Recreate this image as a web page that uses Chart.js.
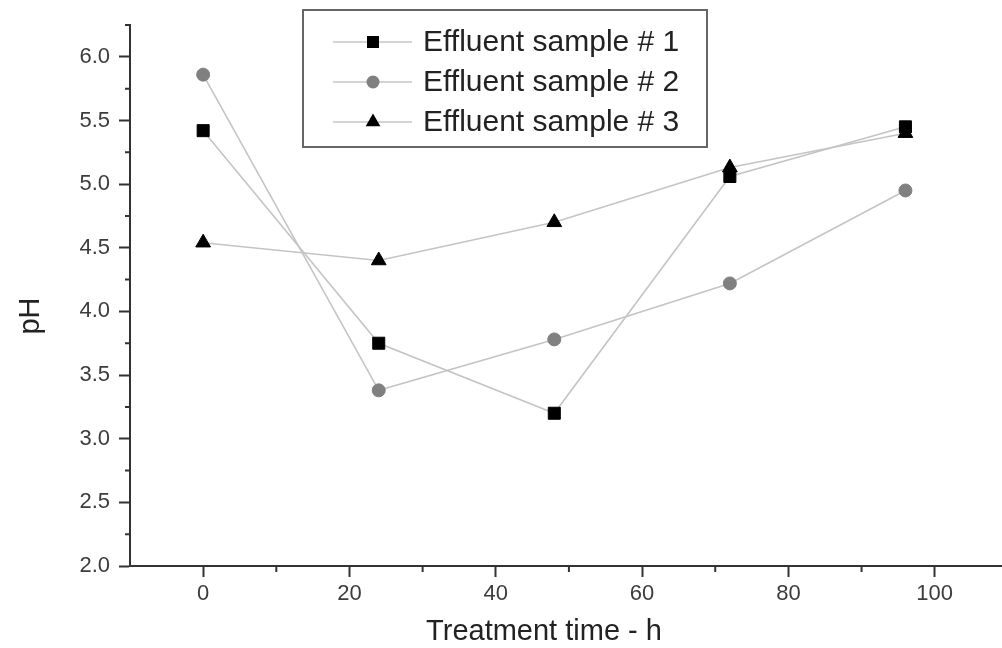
<!DOCTYPE html>
<html>
<head>
<meta charset="utf-8">
<title>pH vs treatment time</title>
<script src="https://cdn.jsdelivr.net/npm/chart.js@4/dist/chart.umd.min.js"></script>
<style>
  html, body { margin: 0; padding: 0; background: #fff; }
  canvas { display: block; }
</style>
</head>
<body>
<canvas id="phChart" width="1002" height="648"></canvas>
<script>
// values
const hours = [0, 24, 48, 72, 96];
const sample1 = [5.42, 3.75, 3.20, 5.06, 5.45];
const sample2 = [5.86, 3.38, 3.78, 4.22, 4.95];
const sample3 = [4.54, 4.40, 4.70, 5.13, 5.40];
const seriesLabels = ['Effluent sample # 1', 'Effluent sample # 2', 'Effluent sample # 3'];
const xTicks = [0, 20, 40, 60, 80, 100];
const xMinorTicks = [10, 30, 50, 70, 90];
const yTicks = [2.0, 2.5, 3.0, 3.5, 4.0, 4.5, 5.0, 5.5, 6.0];
const yMinorTicks = [2.25, 2.75, 3.25, 3.75, 4.25, 4.75, 5.25, 5.75, 6.25];

const FONT = "'Liberation Sans', Arial, sans-serif";
const AXIS = '#333';
const LINE = '#c4c4c4';

function pts(vals) {
    return hours.map((h, i) => ({ x: h, y: vals[i] }));
}

const styles = [
    { pointStyle: 'rect', color: '#000', radius: 8.5 },
    { pointStyle: 'circle', color: '#808080', radius: 6.5 },
    { pointStyle: 'triangle', color: '#000', radius: 8.5 },
];

const datasets = [sample1, sample2, sample3].map((vals, i) => ({
    label: seriesLabels[i],
    data: pts(vals),
    borderColor: LINE,
    borderWidth: 1.6,
    pointStyle: styles[i].pointStyle,
    pointRadius: styles[i].radius,
    pointBackgroundColor: styles[i].color,
    pointBorderColor: styles[i].color,
    pointBorderWidth: 1,
    tension: 0,
}));

function marker(ctx, style, x, y, r, color) {
    ctx.save();
    ctx.fillStyle = color;
    ctx.beginPath();
    if (style === 'rect') {
        const s = Math.SQRT1_2 * r;
        ctx.rect(x - s, y - s, 2 * s, 2 * s);
    } else if (style === 'circle') {
        ctx.arc(x, y, r, 0, Math.PI * 2);
    } else {
        ctx.moveTo(x, y - r);
        ctx.lineTo(x + Math.cos(Math.PI / 6) * r, y + r / 2);
        ctx.lineTo(x - Math.cos(Math.PI / 6) * r, y + r / 2);
        ctx.closePath();
    }
    ctx.fill();
    ctx.restore();
}

// minor ticks, axis titles and the boxed legend
const decor = {
    id: 'decor',
    afterDraw(chart) {
        const ctx = chart.ctx;
        const xs = chart.scales.x, ys = chart.scales.y;
        const area = chart.chartArea;
        ctx.save();
        ctx.strokeStyle = AXIS;
        ctx.lineWidth = 2;
        ctx.beginPath();
        xMinorTicks.forEach(v => {
            const px = xs.getPixelForValue(v);
            ctx.moveTo(px, area.bottom);
            ctx.lineTo(px, area.bottom + 6);
        });
        yMinorTicks.forEach(v => {
            const py = ys.getPixelForValue(v);
            ctx.moveTo(area.left, py);
            ctx.lineTo(area.left - 5, py);
        });
        ctx.stroke();

        // axis titles
        ctx.fillStyle = '#222';
        ctx.font = '29px ' + FONT;
        ctx.textAlign = 'center';
        ctx.textBaseline = 'alphabetic';
        ctx.fillText('Treatment time - h', 544, 640);
        ctx.save();
        ctx.translate(39, 316);
        ctx.rotate(-Math.PI / 2);
        ctx.fillText('pH', 0, 0);
        ctx.restore();

        // legend
        const bx = 303, by = 10, bw = 404, bh = 137;
        ctx.strokeStyle = '#666';
        ctx.lineWidth = 2;
        ctx.strokeRect(bx, by, bw, bh);
        chart.data.datasets.forEach((ds, i) => {
            const cy = 42 + i * 40;
            ctx.strokeStyle = LINE;
            ctx.lineWidth = 1.6;
            ctx.beginPath();
            ctx.moveTo(333, cy);
            ctx.lineTo(412, cy);
            ctx.stroke();
            marker(ctx, ds.pointStyle, 373, cy, ds.pointRadius, ds.pointBackgroundColor);
            ctx.fillStyle = '#222';
            ctx.font = '30px ' + FONT;
            ctx.textAlign = 'left';
            ctx.textBaseline = 'middle';
            ctx.fillText(ds.label, 423, cy + 1);
        });
        ctx.restore();
    }
};

new Chart(document.getElementById('phChart').getContext('2d'), {
    type: 'line',
    data: { datasets },
    options: {
        responsive: false,
        animation: false,
        layout: { autoPadding: false, padding: { top: 25, right: 0, left: 0, bottom: 0 } },
        plugins: {
            legend: { display: false },
            tooltip: { enabled: false },
        },
        scales: {
            x: {
                type: 'linear',
                min: -10,
                max: 109.2,
                afterBuildTicks: s => { s.ticks = xTicks.map(v => ({ value: v })); },
                afterFit: s => {
                    s.height = 82;
                    s.paddingLeft = 0;
                    s.paddingRight = 0;
                },
                grid: {
                    drawOnChartArea: false,
                    drawTicks: true,
                    tickLength: 11,
                    tickWidth: 2,
                    tickColor: AXIS,
                },
                border: { display: true, color: AXIS, width: 2 },
                ticks: {
                    color: '#3c3c3c',
                    font: { family: FONT, size: 22 },
                    padding: 4,
                    maxRotation: 0,
                    callback: v => String(v),
                },
            },
            y: {
                type: 'linear',
                min: 2.0,
                max: 6.25,
                afterBuildTicks: s => { s.ticks = yTicks.map(v => ({ value: v })); },
                afterFit: s => {
                    s.width = 130;
                    s.paddingTop = 0;
                    s.paddingBottom = 0;
                },
                grid: {
                    drawOnChartArea: false,
                    drawTicks: true,
                    tickLength: 11,
                    tickWidth: 2,
                    tickColor: AXIS,
                },
                border: { display: true, color: AXIS, width: 2 },
                ticks: {
                    color: '#3c3c3c',
                    font: { family: FONT, size: 22 },
                    padding: 9,
                    callback: v => Number(v).toFixed(1),
                },
            },
        },
    },
    plugins: [decor],
});
</script>
</body>
</html>
